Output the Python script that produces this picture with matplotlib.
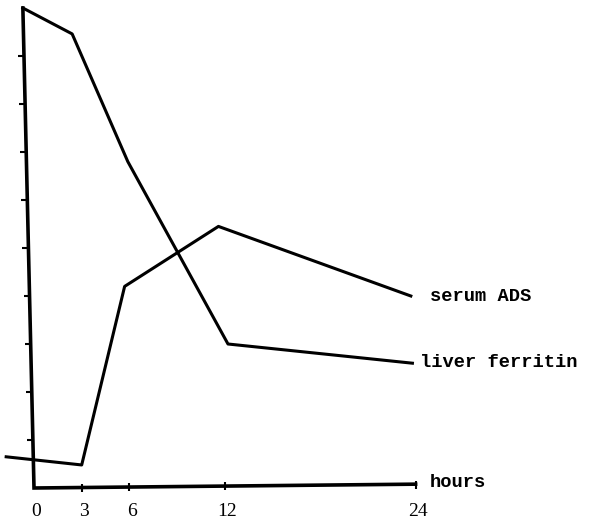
import matplotlib
matplotlib.use("Agg")
import matplotlib.pyplot as plt

# hours positions as drawn (hand-drawn chart, points sit a bit off the ticks)
ferritin_h = [-0.7, 2.4, 5.9, 12.2, 23.8]
ferritin_v = [10.0, 9.46, 6.8, 3.0, 2.6]
ads_h = [-1.75, 3.0, 5.7, 11.6, 23.7]
ads_v = [0.65, 0.48, 4.2, 5.45, 4.0]

hour_ticks = [0, 3, 6, 12, 24]
hour_labels = ["0", "3", "6", "12", "24"]
y_ticks = [1, 2, 3, 4, 5, 6, 7, 8, 9]

fig = plt.figure(figsize=(5.98, 5.22), dpi=100)
ax = fig.add_axes([0, 0, 1, 1])
ax.set_xlim(-34 / 15.9, 564 / 15.9)
ax.set_ylim(-34 / 48, 488 / 48)
ax.axis("off")

lw = 2.2
ax.plot(ferritin_h, ferritin_v, color="black", lw=lw, solid_joinstyle="round")
ax.plot(ads_h, ads_v, color="black", lw=lw, solid_joinstyle="round")

# hand-drawn axes: the vertical one leans a little to the left at the top
lean = -0.07
ax.plot([lean * 10, 0, 24], [10, 0, 0.08], color="black", lw=2.6,
        solid_joinstyle="miter")
ax.plot([lean * v for v in y_ticks], y_ticks, ls="none", marker=0,
        ms=4, mew=1.5, color="black")
ax.plot(hour_ticks[1:], [0.003 * h for h in hour_ticks[1:]], ls="none",
        marker="|", ms=6, mew=1.5, color="black")
for h, lab in zip(hour_ticks, hour_labels):
    ax.text(h + 0.15, -0.5, lab, family="Liberation Serif", fontsize=14,
            ha="center", va="center")

mono = dict(family="Liberation Mono", fontsize=13.5, fontweight="bold",
            va="center", ha="left")
ax.text(24.9, 0.12, "hours", **mono)
ax.text(24.9, 3.98, "serum ADS", **mono)
ax.text(24.3, 2.62, "liver ferritin", **mono)

fig.savefig("out.png", dpi=100)
